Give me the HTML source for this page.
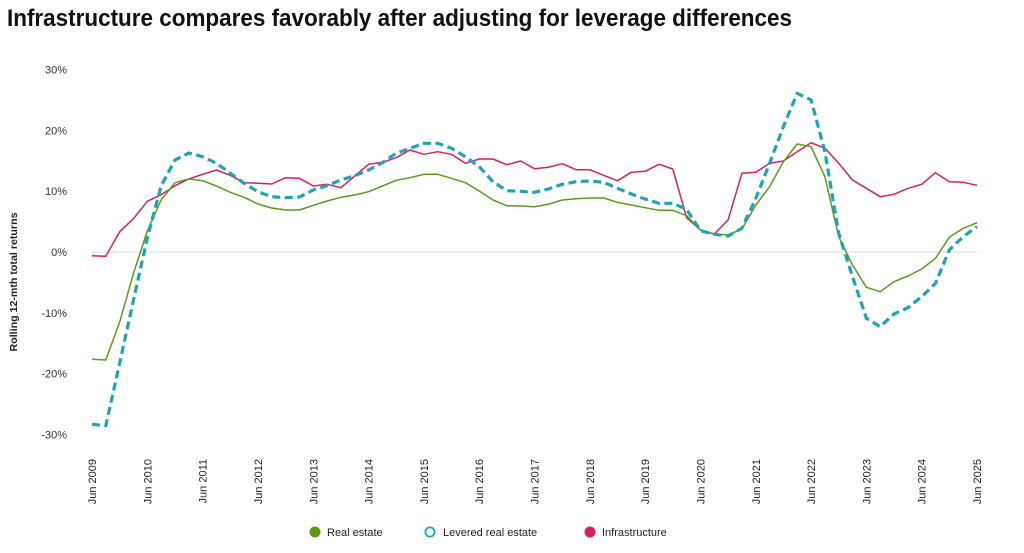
<!DOCTYPE html>
<html>
<head>
<meta charset="utf-8">
<style>
  html, body { margin:0; padding:0; background:#ffffff; }
  body { width:1024px; height:553px; overflow:hidden; }
  svg { display:block; font-family:"Liberation Sans", Arial, sans-serif; }
</style>
</head>
<body>
<svg width="1024" height="553" viewBox="0 0 1024 553" xmlns="http://www.w3.org/2000/svg">
  <rect x="0" y="0" width="1024" height="553" fill="#ffffff"/>

  <!-- Title -->
  <text x="7" y="26" font-size="24" font-weight="bold" fill="#111" textLength="785" lengthAdjust="spacingAndGlyphs">Infrastructure compares favorably after adjusting for leverage differences</text>

  <!-- Y axis title -->
  <text transform="translate(17,282) rotate(-90)" text-anchor="middle" font-size="10.5" font-weight="bold" fill="#222" textLength="139" lengthAdjust="spacingAndGlyphs">Rolling 12-mth total returns</text>

  <!-- Y tick labels -->
  <g font-size="11" fill="#333" text-anchor="end">
    <text x="67" y="73.5">30%</text>
    <text x="67" y="134.4">20%</text>
    <text x="67" y="195.2">10%</text>
    <text x="67" y="256">0%</text>
    <text x="67" y="316.8">-10%</text>
    <text x="67" y="377.6">-20%</text>
    <text x="67" y="438.5">-30%</text>
  </g>

  <!-- Zero line -->
  <line x1="92" y1="252" x2="977" y2="252" stroke="#dcdcdc" stroke-width="1"/>

  <!-- X tick labels -->
  <g font-size="11" fill="#222" text-anchor="end">
    <text transform="translate(96,459) rotate(-90)">Jun 2009</text>
    <text transform="translate(151.3,459) rotate(-90)">Jun 2010</text>
    <text transform="translate(206.6,459) rotate(-90)">Jun 2011</text>
    <text transform="translate(261.9,459) rotate(-90)">Jun 2012</text>
    <text transform="translate(317.3,459) rotate(-90)">Jun 2013</text>
    <text transform="translate(372.6,459) rotate(-90)">Jun 2014</text>
    <text transform="translate(427.9,459) rotate(-90)">Jun 2015</text>
    <text transform="translate(483.2,459) rotate(-90)">Jun 2016</text>
    <text transform="translate(538.5,459) rotate(-90)">Jun 2017</text>
    <text transform="translate(593.8,459) rotate(-90)">Jun 2018</text>
    <text transform="translate(649.1,459) rotate(-90)">Jun 2019</text>
    <text transform="translate(704.4,459) rotate(-90)">Jun 2020</text>
    <text transform="translate(759.8,459) rotate(-90)">Jun 2021</text>
    <text transform="translate(815.1,459) rotate(-90)">Jun 2022</text>
    <text transform="translate(870.4,459) rotate(-90)">Jun 2023</text>
    <text transform="translate(925.7,459) rotate(-90)">Jun 2024</text>
    <text transform="translate(981,459) rotate(-90)">Jun 2025</text>
  </g>

  <!-- Infrastructure (pink) -->
  <polyline fill="none" stroke="#d81f5f" stroke-width="1.5" stroke-linejoin="round" points="
    92.0,255.7 105.8,256.3 119.7,231.7 133.5,218.7 147.3,201.3 161.1,194.7 175.0,185.7 188.8,179
    202.6,174.3 216.5,170 230.3,175.3 244.1,182.7 257.9,183.3 271.8,184 285.6,177.7 299.4,178.3
    313.3,186 327.1,184.3 340.9,187.7 354.7,176 368.6,164.3 382.4,162.3 396.2,157.7 410.0,150
    423.9,154.3 437.7,151.7 451.5,154.3 465.4,163.3 479.2,159 493.0,159 506.8,164.7 520.7,161
    534.5,168.7 548.3,167.3 562.2,163.7 576.0,169.7 589.8,169.7 603.6,175.3 617.5,180.7 631.3,172.3
    645.1,171.3 659.0,164.3 672.8,169 686.6,217.7 700.4,230 714.3,234 728.1,220 741.9,173.3
    755.8,172.3 769.6,163.3 783.4,161 797.2,151.7 811.1,142.7 824.9,148.3 838.7,163.3 852.5,180
    866.4,188.3 880.2,196.7 894.0,194.3 907.9,188.3 921.7,184.3 935.5,172.7 949.3,181.7 963.2,182.3 977.0,185.3"/>

  <!-- Real estate (green) -->
  <polyline fill="none" stroke="#5d9a1a" stroke-width="1.5" stroke-linejoin="round" points="
    92.0,359.3 105.8,360 119.7,322 133.5,273.3 147.3,231 161.1,200 175.0,182.7 188.8,179
    202.6,180.7 216.5,186 230.3,192.3 244.1,197.3 257.9,204 271.8,208 285.6,210 299.4,210
    313.3,205.3 327.1,201 340.9,197.3 354.7,195 368.6,191.7 382.4,186 396.2,180.3 410.0,177.7
    423.9,174.3 437.7,174.3 451.5,178.3 465.4,182.7 479.2,191 493.0,200 506.8,205.7 520.7,206
    534.5,206.7 548.3,204.3 562.2,200 576.0,198.7 589.8,198 603.6,198 617.5,202.3 631.3,205
    645.1,207.7 659.0,210.3 672.8,210.3 686.6,215.7 700.4,230 714.3,234 728.1,235 741.9,229
    755.8,205 769.6,186.7 783.4,161.7 797.2,144 811.1,146.7 824.9,176.7 838.7,236.7 852.5,265
    866.4,287.3 880.2,291.7 894.0,281.7 907.9,276 921.7,269 935.5,258.3 949.3,237.3 963.2,228.3 977.0,222.7"/>

  <!-- Levered real estate (teal dashed) -->
  <polyline fill="none" stroke="#1fa3b6" stroke-width="3.2" stroke-dasharray="8,4.5" stroke-linejoin="round" points="
    92.0,424.3 105.8,425.7 119.7,363 133.5,300 147.3,238 161.1,186 175.0,160 188.8,153
    202.6,156.7 216.5,163.3 230.3,173.3 244.1,183.3 257.9,191.7 271.8,196.7 285.6,197.7 299.4,197
    313.3,190 327.1,185.7 340.9,180 354.7,175.7 368.6,170 382.4,162.7 396.2,153.3 410.0,148.3
    423.9,143.3 437.7,143.3 451.5,148.3 465.4,156.7 479.2,166.7 493.0,181.7 506.8,190.7 520.7,191.3
    534.5,192.3 548.3,189 562.2,184.3 576.0,181.7 589.8,181 603.6,182.3 617.5,188.3 631.3,194
    645.1,199 659.0,203.3 672.8,203.3 686.6,209.3 700.4,230.7 714.3,234.3 728.1,236 741.9,228.3
    755.8,198.3 769.6,163.3 783.4,126.7 797.2,93.3 811.1,100 824.9,151.7 838.7,233.3 852.5,276.7
    866.4,318.3 880.2,326.7 894.0,314 907.9,307.7 921.7,296.7 935.5,283.3 949.3,250 963.2,236.7 977.0,226.7"/>

  <!-- Legend -->
  <g font-size="11" fill="#222">
    <circle cx="315" cy="532" r="5.5" fill="#5d9a1a"/>
    <text x="327" y="536">Real estate</text>
    <circle cx="430" cy="532" r="4.6" fill="#ffffff" stroke="#1fa3b6" stroke-width="1.8"/>
    <text x="443" y="536">Levered real estate</text>
    <circle cx="590" cy="532" r="5.5" fill="#d81f5f"/>
    <text x="602" y="536">Infrastructure</text>
  </g>
</svg>
</body>
</html>
